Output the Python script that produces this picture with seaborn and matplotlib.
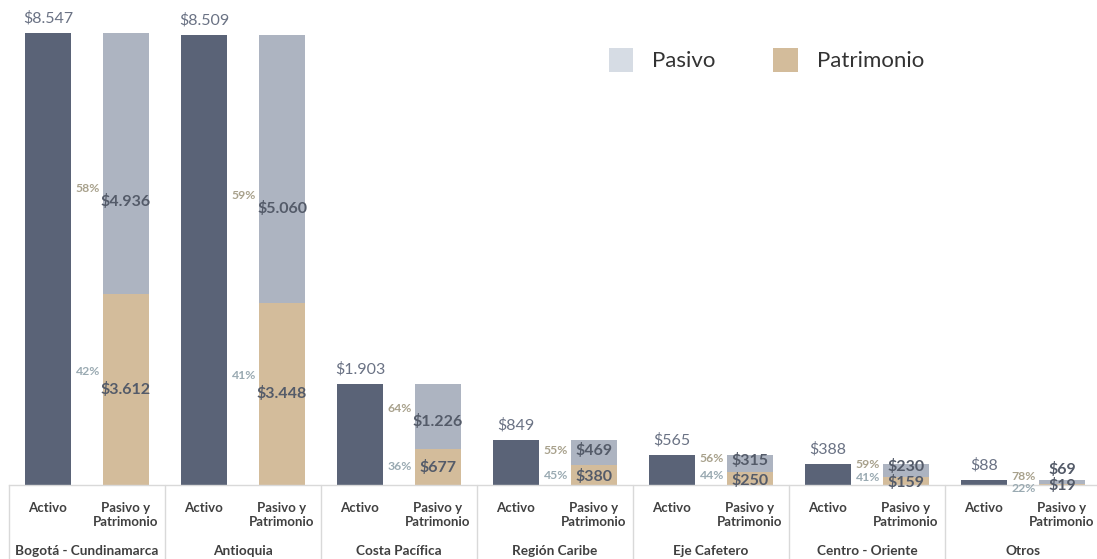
import matplotlib
matplotlib.use("Agg")
import matplotlib.pyplot as plt
import matplotlib.transforms as mtransforms
from matplotlib.patches import Patch
from matplotlib.lines import Line2D
import seaborn as sns
import pandas as pd

# ---------------- data ----------------
regions = ["Bogotá - Cundinamarca", "Antioquia", "Costa Pacífica", "Región Caribe",
           "Eje Cafetero", "Centro - Oriente", "Otros"]
activo = [8547, 8509, 1903, 849, 565, 388, 88]
pasivo = [4936, 5060, 1226, 469, 315, 230, 69]
patrimonio = [3612, 3448, 677, 380, 250, 159, 19]
pct_pasivo = ["58%", "59%", "64%", "55%", "56%", "59%", "78%"]
pct_patrimonio = ["42%", "41%", "36%", "45%", "44%", "41%", "22%"]
bar_labels = ["Activo", "Pasivo y\nPatrimonio"]
legend_labels = ["Pasivo", "Patrimonio"]

def money(v):
    return "$" + f"{v:,}".replace(",", ".")

# ---------------- style ----------------
sns.set_theme(style="white")
plt.rcParams["font.family"] = ["Lato", "DejaVu Sans"]

C_ACT = "#5a6377"
C_PAS = "#adb4c1"
C_PAT = "#d3bc9b"
C_LEG_PAS = "#d6dce4"
C_LBL = "#545b69"
C_ACT_LBL = "#6a7284"
C_PCT_PAS = "#a8a18c"
C_PCT_PAT = "#9aaab2"
C_GRID = "#d9d9d9"

W, H = 1097, 559
fig = plt.figure(figsize=(W / 100, H / 100), dpi=100)
ax = fig.add_axes([9 / W, 74 / H, (W - 9) / W, 485 / H])

order = []
for r in regions:
    order += [r + "|A", r + "|P"]

df_a = pd.DataFrame({"slot": [r + "|A" for r in regions], "value": activo})
df_t = pd.DataFrame({"slot": [r + "|P" for r in regions],
                     "value": [p + q for p, q in zip(pasivo, patrimonio)]})
df_p = pd.DataFrame({"slot": [r + "|P" for r in regions], "value": patrimonio})

bw = 0.59
sns.barplot(data=df_a, x="slot", y="value", order=order, color=C_ACT, saturation=1,
            width=bw, errorbar=None, linewidth=0, ax=ax)
sns.barplot(data=df_t, x="slot", y="value", order=order, color=C_PAS, saturation=1,
            width=bw, errorbar=None, linewidth=0, ax=ax)
sns.barplot(data=df_p, x="slot", y="value", order=order, color=C_PAT, saturation=1,
            width=bw, errorbar=None, linewidth=0, ax=ax)

ymax = max(activo) * 485 / 452
ax.set_ylim(0, ymax)
ax.set_xlim(-0.5, 13.449)
px = ymax / 485.0  # data units per pixel

for i in range(len(regions)):
    xa, xp = 2 * i, 2 * i + 1
    # Activo label
    ax.text(xa, activo[i] + 15 * px, money(activo[i]), ha="center", va="center",
            fontsize=11.5, color=C_ACT_LBL)
    pas_px = pasivo[i] / px
    pat_px = patrimonio[i] / px
    # Patrimonio label position
    if pat_px > 30:
        y_pat_txt = patrimonio[i] / 2
    else:
        y_pat_txt = max(patrimonio[i] / 2 - 2 * px, 0)
    # Pasivo label position
    y_pas = patrimonio[i] + (0.33 * pas_px + 6) * px
    y_pas = max(y_pas, y_pat_txt + 15 * px)
    # percent label positions
    if pat_px < 5:
        yp1 = y_pat_txt + 9 * px
        yp2 = y_pat_txt - 4 * px
    elif pat_px < 20:
        yp1 = y_pas + 2 * px
        yp2 = y_pat_txt + 5 * px
    else:
        yp1 = y_pas + (13 * px if pas_px > 40 else 0)
        yp2 = y_pat_txt + (18 * px if pat_px > 40 else 1 * px)

    ax.text(xp, y_pas, money(pasivo[i]), ha="center", va="center",
            fontsize=11.5, fontweight="bold", color=C_LBL)
    ax.text(xp, y_pat_txt, money(patrimonio[i]), ha="center", va="center",
            fontsize=11.5, fontweight="bold", color=C_LBL)
    ax.text(xp - bw / 2 - 0.04, yp1, pct_pasivo[i], ha="right", va="center",
            fontsize=8.8, fontweight="bold", color=C_PCT_PAS)
    ax.text(xp - bw / 2 - 0.04, yp2, pct_patrimonio[i], ha="right", va="center",
            fontsize=8.8, fontweight="bold", color=C_PCT_PAT)

# axes cosmetics
for s in ["top", "right", "left"]:
    ax.spines[s].set_visible(False)
ax.spines["bottom"].set_color(C_GRID)
ax.spines["bottom"].set_linewidth(1.0)
ax.set_yticks([])
ax.set_ylabel("")
ax.set_xlabel("")
ax.set_xticks(range(len(order)))
ax.set_xticklabels(bar_labels * len(regions), fontsize=9.5, fontweight="bold",
                   color="#404040", va="top", linespacing=1.25)
ax.tick_params(axis="x", length=0, pad=12)

trans = mtransforms.blended_transform_factory(ax.transData, ax.transAxes)
for i, r in enumerate(regions):
    ax.text(2 * i + 0.5, -66 / 485, r, transform=trans, ha="center", va="center",
            fontsize=9.8, fontweight="bold", color="#404040")
for k in range(len(regions) + 1):
    xb = 2 * k - 0.5
    ax.add_line(Line2D([xb, xb], [0, -80 / 485], transform=trans, color=C_GRID,
                       lw=1.0, clip_on=False))

handles = [Patch(facecolor=C_LEG_PAS, edgecolor="none"),
           Patch(facecolor=C_PAT, edgecolor="none")]
fig.legend(handles, legend_labels, loc="center left", bbox_to_anchor=(589 / W, 1 - 60 / H),
           ncol=2, frameon=False, fontsize=16, handlelength=1.1, handleheight=1.27,
           handletextpad=0.85, columnspacing=2.6, labelcolor="#333333")

fig.savefig("out.png", dpi=100)
